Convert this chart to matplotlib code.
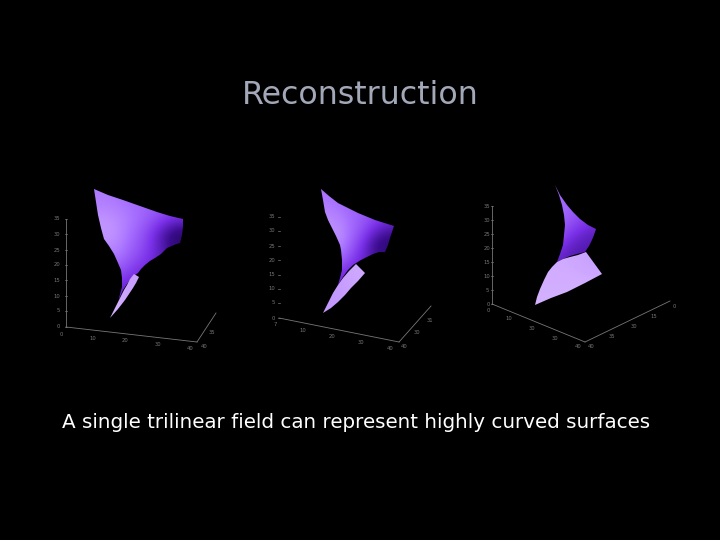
import matplotlib
matplotlib.use('Agg')
import matplotlib.pyplot as plt
from matplotlib.colors import LinearSegmentedColormap
from matplotlib.patches import Polygon

TITLE = "Reconstruction"
CAPTION = "A single trilinear field can represent highly curved surfaces"

# surface outlines in image pixels
P1_UPPER = [(94, 189), (108, 195), (123, 200), (140, 206), (157, 212), (170, 216), (183, 219), (183, 227), (182, 235),
            (180, 243), (174, 245), (167, 248), (161, 254), (155, 258), (150, 261), (145, 265), (141, 269), (138, 273),
            (132, 277), (127, 284), (123, 290), (119, 299), (119, 298), (122, 287), (122, 278), (121, 270), (118, 263),
            (114, 254), (109, 246), (104, 239), (101, 228), (98, 215), (96, 202)]
P1_LOWER = [(134, 274), (139, 277), (136, 283), (133, 288), (129, 294), (125, 300), (118, 309), (110, 318),
            (115, 308), (120, 298), (124, 290), (127, 285), (130, 279)]
P2_UPPER = [(321, 189), (329, 196), (338, 203), (348, 208), (358, 213), (375, 220), (394, 226), (392, 232), (390, 238),
            (388, 245), (385, 252), (379, 252), (373, 254), (367, 257), (361, 260), (353, 265), (348, 270), (343, 277),
            (338, 285), (340, 278), (342, 270), (342, 260), (341, 250), (340, 245), (336, 236), (332, 228), (328, 220),
            (325, 212), (323, 200)]
P2_LOWER = [(356, 264), (360, 268), (365, 273), (358, 281), (351, 288), (345, 295), (338, 302), (331, 308), (323, 313),
            (328, 303), (333, 293), (338, 285), (343, 278), (349, 271)]
P3_UPPER = [(555, 185), (560, 195), (567, 205), (573, 212), (580, 219), (588, 225), (596, 229), (594, 235), (592, 240),
            (589, 246), (585, 252), (577, 254), (570, 256), (563, 259), (557, 262), (560, 254), (563, 245), (564, 235),
            (565, 225), (564, 215), (562, 205), (559, 195)]
P3_LOWER = [(557, 262), (563, 259), (570, 257), (578, 255), (586, 252), (594, 263), (602, 274), (585, 283), (567, 292),
            (551, 298), (535, 305), (537, 297), (540, 289), (544, 280), (548, 272), (552, 267)]

# shade grids, 0 dark purple, 0.5 violet, 1 pale lilac
P1_UPPER_SHADE = [[.78, .76, .72, .70, .66, .62],
                  [.86, .84, .78, .70, .62, .54],
                  [.90, .86, .74, .60, .34, .10],
                  [.78, .82, .68, .56, .40, .22],
                  [.56, .68, .54, .46, .34, .24],
                  [.44, .44, .38, .36, .30, .22]]
P2_UPPER_SHADE = [[.76, .72, .68, .66, .62, .58],
                  [.82, .78, .72, .68, .62, .56],
                  [.86, .86, .74, .62, .46, .34],
                  [.76, .86, .68, .48, .20, .14],
                  [.58, .72, .56, .42, .32, .28],
                  [.42, .46, .40, .36, .30, .28]]
P3_UPPER_SHADE = [[.72, .68, .64, .60],
                  [.74, .70, .64, .60],
                  [.72, .62, .56, .48],
                  [.60, .48, .40, .36],
                  [.42, .36, .34, .34]]
P1_LOWER_SHADE = [[.94, .90], [.96, .92]]
P2_LOWER_SHADE = [[.88, .94], [.88, .90]]
P3_LOWER_SHADE = [[.94, .94, .90], [.96, .96, .98]]

# axis corners: z top, origin, x end, y end
P1_AXES = [(66, 219), (66, 327), (197, 342), (216, 313)]
P2_AXES = [(279, 217), (279, 318), (399, 342), (431, 306)]
P3_AXES = [(492, 206), (492, 304), (585, 342), (670, 301)]

P1_Z = [("35", 57, 219), ("30", 57, 234), ("25", 57, 250), ("20", 57, 265), ("15", 57, 280), ("10", 57, 296),
        ("5", 58, 311), ("0", 58, 327)]
P1_XY = [("0", 61, 334), ("10", 93, 338), ("20", 125, 341), ("30", 158, 345), ("40", 190, 349), ("40", 204, 346),
         ("35", 212, 333)]
P2_Z = [("35", 272, 217), ("30", 272, 231), ("25", 272, 246), ("20", 272, 260), ("15", 272, 275), ("10", 272, 289),
        ("5", 273, 303), ("0", 273, 318)]
P2_XY = [("7", 275, 325), ("10", 303, 331), ("20", 332, 337), ("30", 361, 342), ("40", 390, 348), ("40", 404, 346),
         ("30", 417, 333), ("31", 430, 320)]
P3_Z = [("35", 487, 206), ("30", 487, 220), ("25", 487, 234), ("20", 487, 248), ("15", 487, 262), ("10", 487, 276),
        ("5", 487, 290), ("0", 488, 304)]
P3_XY = [("0", 488, 310), ("10", 509, 319), ("30", 532, 329), ("30", 555, 338), ("40", 578, 347), ("40", 591, 347),
         ("35", 612, 337), ("30", 634, 326), ("15", 654, 316), ("0", 674, 306)]

SURFACE_CMAP = LinearSegmentedColormap.from_list('surf', ['#14033a', '#3a0c8c', '#7a30e8', '#a770ff', '#dcbcff'])


def draw_surface(ax, outline, shade):
    xs = [p[0] for p in outline]
    ys = [p[1] for p in outline]
    im = ax.imshow(shade, cmap=SURFACE_CMAP, vmin=0, vmax=1, interpolation='bicubic', aspect='auto',
                   extent=(min(xs), max(xs), max(ys), min(ys)), zorder=3)
    patch = Polygon(outline, closed=True, transform=ax.transData, fc='none', ec='none')
    ax.add_patch(patch)
    im.set_clip_path(patch)


def draw_axes(ax, corners, z_labels, xy_labels, z_line=True):
    top, origin, x_end, y_end = corners
    lines = [(origin, x_end), (x_end, y_end)]
    if z_line:
        lines.append((top, origin))
    for a, b in lines:
        ax.plot([a[0], b[0]], [a[1], b[1]], color='#777777', lw=0.6, zorder=1)
    for text, x, y in z_labels:
        ax.text(x, y, text, color='#777777', fontsize=3.8, ha='center', va='center', zorder=2)
        ax.plot([origin[0] - 1, origin[0] + 1], [y, y], color='#777777', lw=0.5, zorder=1)
    for text, x, y in xy_labels:
        ax.text(x, y, text, color='#777777', fontsize=3.8, ha='center', va='center', zorder=2)


fig = plt.figure(figsize=(7.2, 5.4), dpi=100, facecolor='black')
ax = fig.add_axes([0, 0, 1, 1])
ax.set_facecolor('black')
ax.axis('off')

draw_axes(ax, P1_AXES, P1_Z, P1_XY)
draw_axes(ax, P2_AXES, P2_Z, P2_XY, z_line=False)
draw_axes(ax, P3_AXES, P3_Z, P3_XY)

draw_surface(ax, P1_UPPER, P1_UPPER_SHADE)
draw_surface(ax, P1_LOWER, P1_LOWER_SHADE)
draw_surface(ax, P2_UPPER, P2_UPPER_SHADE)
draw_surface(ax, P2_LOWER, P2_LOWER_SHADE)
draw_surface(ax, P3_UPPER, P3_UPPER_SHADE)
draw_surface(ax, P3_LOWER, P3_LOWER_SHADE)

ax.text(360, 95, TITLE, color='#a3a8b8', fontsize=22.8, ha='center', va='center', family='DejaVu Sans')
ax.text(356.5, 422, CAPTION, color='white', fontsize=14.3, ha='center', va='center', family='DejaVu Sans')

ax.set_xlim(0, 720)
ax.set_ylim(540, 0)

fig.savefig('out.png', dpi=100, facecolor='black')
